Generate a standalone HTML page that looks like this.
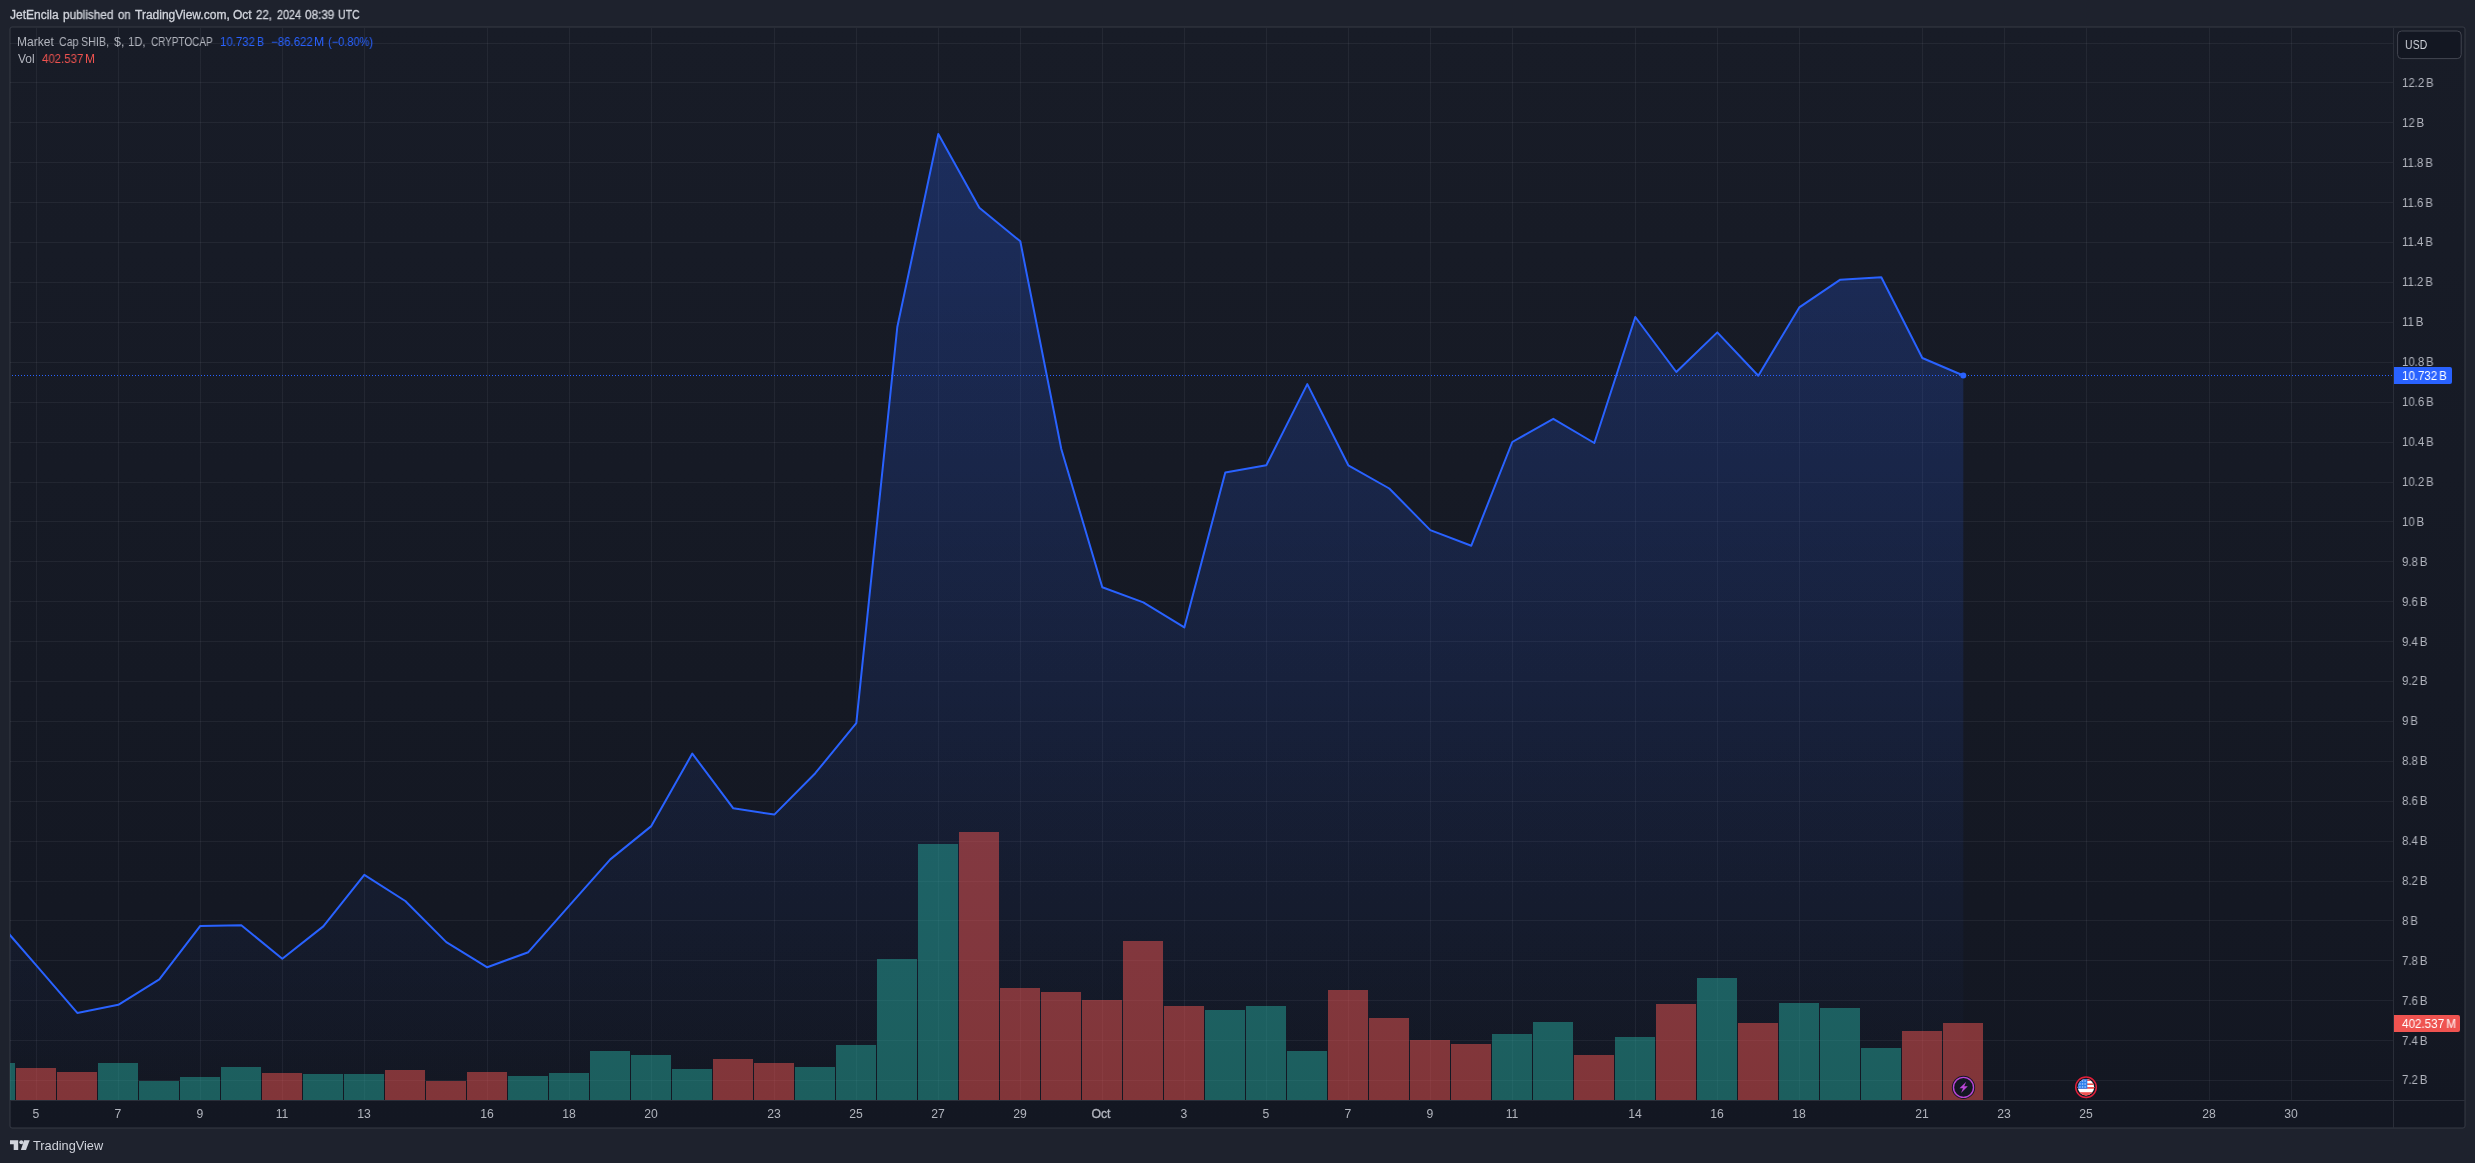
<!DOCTYPE html>
<html lang="en"><head><meta charset="utf-8"><title>Market Cap SHIB chart</title>
<style>
html,body{margin:0;padding:0;background:#1e222d;}
body{width:2475px;height:1163px;overflow:hidden;position:relative;font-family:"Liberation Sans",sans-serif;}
.t{position:absolute;white-space:nowrap;line-height:16px;height:16px;will-change:transform;transform-origin:0 50%;}
.t i{font-style:normal;margin-left:2px;}
</style></head><body>
<svg width="2475" height="1163" viewBox="0 0 2475 1163" style="position:absolute;left:0;top:0">
<defs>
<linearGradient id="bg" x1="0" y1="0" x2="0" y2="1"><stop offset="0" stop-color="#181c27"/><stop offset="1" stop-color="#131722"/></linearGradient>
<linearGradient id="ar" gradientUnits="userSpaceOnUse" x1="0" y1="28" x2="0" y2="1100"><stop offset="0" stop-color="#2962ff" stop-opacity="0.28"/><stop offset="1" stop-color="#2962ff" stop-opacity="0"/></linearGradient>
<clipPath id="pane"><rect x="10" y="28" width="2383" height="1072"/></clipPath>
<clipPath id="flag"><circle cx="2086" cy="1087.2" r="8.2"/></clipPath>
</defs>
<rect x="10" y="27" width="2455" height="1101" rx="2" fill="url(#bg)"/>
<rect x="10" y="27" width="2455" height="1101" rx="2" fill="none" stroke="#363a45" stroke-width="1"/>
<g fill="#f0f3fa" fill-opacity="0.06" clip-path="url(#pane)">
<rect x="36" y="28" width="1" height="1072"/>
<rect x="118" y="28" width="1" height="1072"/>
<rect x="200" y="28" width="1" height="1072"/>
<rect x="282" y="28" width="1" height="1072"/>
<rect x="364" y="28" width="1" height="1072"/>
<rect x="487" y="28" width="1" height="1072"/>
<rect x="569" y="28" width="1" height="1072"/>
<rect x="651" y="28" width="1" height="1072"/>
<rect x="774" y="28" width="1" height="1072"/>
<rect x="856" y="28" width="1" height="1072"/>
<rect x="938" y="28" width="1" height="1072"/>
<rect x="1020" y="28" width="1" height="1072"/>
<rect x="1102" y="28" width="1" height="1072"/>
<rect x="1184" y="28" width="1" height="1072"/>
<rect x="1266" y="28" width="1" height="1072"/>
<rect x="1348" y="28" width="1" height="1072"/>
<rect x="1430" y="28" width="1" height="1072"/>
<rect x="1512" y="28" width="1" height="1072"/>
<rect x="1635" y="28" width="1" height="1072"/>
<rect x="1717" y="28" width="1" height="1072"/>
<rect x="1799" y="28" width="1" height="1072"/>
<rect x="1922" y="28" width="1" height="1072"/>
<rect x="2004" y="28" width="1" height="1072"/>
<rect x="2086" y="28" width="1" height="1072"/>
<rect x="2209" y="28" width="1" height="1072"/>
<rect x="2291" y="28" width="1" height="1072"/>
<rect x="10" y="1080" width="2383" height="1"/>
<rect x="10" y="1040" width="2383" height="1"/>
<rect x="10" y="1000" width="2383" height="1"/>
<rect x="10" y="960" width="2383" height="1"/>
<rect x="10" y="920" width="2383" height="1"/>
<rect x="10" y="881" width="2383" height="1"/>
<rect x="10" y="841" width="2383" height="1"/>
<rect x="10" y="801" width="2383" height="1"/>
<rect x="10" y="761" width="2383" height="1"/>
<rect x="10" y="721" width="2383" height="1"/>
<rect x="10" y="681" width="2383" height="1"/>
<rect x="10" y="641" width="2383" height="1"/>
<rect x="10" y="601" width="2383" height="1"/>
<rect x="10" y="561" width="2383" height="1"/>
<rect x="10" y="521" width="2383" height="1"/>
<rect x="10" y="482" width="2383" height="1"/>
<rect x="10" y="442" width="2383" height="1"/>
<rect x="10" y="402" width="2383" height="1"/>
<rect x="10" y="362" width="2383" height="1"/>
<rect x="10" y="322" width="2383" height="1"/>
<rect x="10" y="282" width="2383" height="1"/>
<rect x="10" y="242" width="2383" height="1"/>
<rect x="10" y="202" width="2383" height="1"/>
<rect x="10" y="162" width="2383" height="1"/>
<rect x="10" y="122" width="2383" height="1"/>
<rect x="10" y="82" width="2383" height="1"/>
<rect x="10" y="43" width="2383" height="1"/>
</g>
<g clip-path="url(#pane)">
<polygon points="-5.0,1100 -4.7,918.2 36.3,965.4 77.3,1012.9 118.3,1004.8 159.3,979.3 200.3,925.9 241.3,925.2 282.3,958.8 323.3,926.4 364.3,874.8 405.3,901.0 446.3,942.1 487.3,967.3 528.3,952.2 569.3,905.6 610.3,859.4 651.3,826.1 692.3,753.6 733.3,808.3 774.3,814.6 815.3,773.2 856.3,723.2 897.3,327.0 938.3,134.0 979.3,207.8 1020.3,241.3 1061.3,449.0 1102.3,587.3 1143.3,602.4 1184.3,627.4 1225.3,472.5 1266.3,465.3 1307.3,384.1 1348.3,465.3 1389.3,488.5 1430.3,530.1 1471.3,545.7 1512.3,442.0 1553.3,418.8 1594.3,443.0 1635.3,317.0 1676.3,372.0 1717.3,332.4 1758.3,375.7 1799.3,307.4 1840.3,279.7 1881.3,277.2 1922.3,358.0 1963.3,375.5 1963.3,1100" fill="url(#ar)"/>
<line x1="10" y1="375.5" x2="2393" y2="375.5" stroke="#2962ff" stroke-width="1" stroke-dasharray="1 2" stroke-dashoffset="1"/>
<polyline points="-4.7,918.2 36.3,965.4 77.3,1012.9 118.3,1004.8 159.3,979.3 200.3,925.9 241.3,925.2 282.3,958.8 323.3,926.4 364.3,874.8 405.3,901.0 446.3,942.1 487.3,967.3 528.3,952.2 569.3,905.6 610.3,859.4 651.3,826.1 692.3,753.6 733.3,808.3 774.3,814.6 815.3,773.2 856.3,723.2 897.3,327.0 938.3,134.0 979.3,207.8 1020.3,241.3 1061.3,449.0 1102.3,587.3 1143.3,602.4 1184.3,627.4 1225.3,472.5 1266.3,465.3 1307.3,384.1 1348.3,465.3 1389.3,488.5 1430.3,530.1 1471.3,545.7 1512.3,442.0 1553.3,418.8 1594.3,443.0 1635.3,317.0 1676.3,372.0 1717.3,332.4 1758.3,375.7 1799.3,307.4 1840.3,279.7 1881.3,277.2 1922.3,358.0 1963.3,375.5" fill="none" stroke="#2962ff" stroke-width="2" stroke-linejoin="round" stroke-linecap="round"/>
<circle cx="1963.3" cy="375.5" r="3" fill="#2962ff"/>
<rect x="-25" y="1063" width="40" height="37" fill="#26a69a" fill-opacity="0.5"/>
<rect x="16" y="1068" width="40" height="32" fill="#ef5350" fill-opacity="0.5"/>
<rect x="57" y="1072" width="40" height="28" fill="#ef5350" fill-opacity="0.5"/>
<rect x="98" y="1063" width="40" height="37" fill="#26a69a" fill-opacity="0.5"/>
<rect x="139" y="1081" width="40" height="19" fill="#26a69a" fill-opacity="0.5"/>
<rect x="180" y="1077" width="40" height="23" fill="#26a69a" fill-opacity="0.5"/>
<rect x="221" y="1067" width="40" height="33" fill="#26a69a" fill-opacity="0.5"/>
<rect x="262" y="1073" width="40" height="27" fill="#ef5350" fill-opacity="0.5"/>
<rect x="303" y="1074" width="40" height="26" fill="#26a69a" fill-opacity="0.5"/>
<rect x="344" y="1074" width="40" height="26" fill="#26a69a" fill-opacity="0.5"/>
<rect x="385" y="1070" width="40" height="30" fill="#ef5350" fill-opacity="0.5"/>
<rect x="426" y="1081" width="40" height="19" fill="#ef5350" fill-opacity="0.5"/>
<rect x="467" y="1072" width="40" height="28" fill="#ef5350" fill-opacity="0.5"/>
<rect x="508" y="1076" width="40" height="24" fill="#26a69a" fill-opacity="0.5"/>
<rect x="549" y="1073" width="40" height="27" fill="#26a69a" fill-opacity="0.5"/>
<rect x="590" y="1051" width="40" height="49" fill="#26a69a" fill-opacity="0.5"/>
<rect x="631" y="1055" width="40" height="45" fill="#26a69a" fill-opacity="0.5"/>
<rect x="672" y="1069" width="40" height="31" fill="#26a69a" fill-opacity="0.5"/>
<rect x="713" y="1059" width="40" height="41" fill="#ef5350" fill-opacity="0.5"/>
<rect x="754" y="1063" width="40" height="37" fill="#ef5350" fill-opacity="0.5"/>
<rect x="795" y="1067" width="40" height="33" fill="#26a69a" fill-opacity="0.5"/>
<rect x="836" y="1045" width="40" height="55" fill="#26a69a" fill-opacity="0.5"/>
<rect x="877" y="959" width="40" height="141" fill="#26a69a" fill-opacity="0.5"/>
<rect x="918" y="844" width="40" height="256" fill="#26a69a" fill-opacity="0.5"/>
<rect x="959" y="832" width="40" height="268" fill="#ef5350" fill-opacity="0.5"/>
<rect x="1000" y="988" width="40" height="112" fill="#ef5350" fill-opacity="0.5"/>
<rect x="1041" y="992" width="40" height="108" fill="#ef5350" fill-opacity="0.5"/>
<rect x="1082" y="1000" width="40" height="100" fill="#ef5350" fill-opacity="0.5"/>
<rect x="1123" y="941" width="40" height="159" fill="#ef5350" fill-opacity="0.5"/>
<rect x="1164" y="1006" width="40" height="94" fill="#ef5350" fill-opacity="0.5"/>
<rect x="1205" y="1010" width="40" height="90" fill="#26a69a" fill-opacity="0.5"/>
<rect x="1246" y="1006" width="40" height="94" fill="#26a69a" fill-opacity="0.5"/>
<rect x="1287" y="1051" width="40" height="49" fill="#26a69a" fill-opacity="0.5"/>
<rect x="1328" y="990" width="40" height="110" fill="#ef5350" fill-opacity="0.5"/>
<rect x="1369" y="1018" width="40" height="82" fill="#ef5350" fill-opacity="0.5"/>
<rect x="1410" y="1040" width="40" height="60" fill="#ef5350" fill-opacity="0.5"/>
<rect x="1451" y="1044" width="40" height="56" fill="#ef5350" fill-opacity="0.5"/>
<rect x="1492" y="1034" width="40" height="66" fill="#26a69a" fill-opacity="0.5"/>
<rect x="1533" y="1022" width="40" height="78" fill="#26a69a" fill-opacity="0.5"/>
<rect x="1574" y="1055" width="40" height="45" fill="#ef5350" fill-opacity="0.5"/>
<rect x="1615" y="1037" width="40" height="63" fill="#26a69a" fill-opacity="0.5"/>
<rect x="1656" y="1004" width="40" height="96" fill="#ef5350" fill-opacity="0.5"/>
<rect x="1697" y="978" width="40" height="122" fill="#26a69a" fill-opacity="0.5"/>
<rect x="1738" y="1023" width="40" height="77" fill="#ef5350" fill-opacity="0.5"/>
<rect x="1779" y="1003" width="40" height="97" fill="#26a69a" fill-opacity="0.5"/>
<rect x="1820" y="1008" width="40" height="92" fill="#26a69a" fill-opacity="0.5"/>
<rect x="1861" y="1048" width="40" height="52" fill="#26a69a" fill-opacity="0.5"/>
<rect x="1902" y="1031" width="40" height="69" fill="#ef5350" fill-opacity="0.5"/>
<rect x="1943" y="1023" width="40" height="77" fill="#ef5350" fill-opacity="0.5"/>
</g>
<rect x="2393" y="28" width="1" height="1100" fill="#2a2e39"/>
<rect x="10" y="1100" width="2455" height="1" fill="#2a2e39"/>
<rect x="2397.6" y="31" width="63.6" height="27.6" rx="4" fill="#131722" stroke="#434651" stroke-width="1"/>
<path d="M2394 367H2450a2 2 0 0 1 2 2V382a2 2 0 0 1-2 2H2394Z" fill="#2962ff"/>
<path d="M2394 1015H2458a2 2 0 0 1 2 2V1030a2 2 0 0 1-2 2H2394Z" fill="#ef5350"/>
<g>
<circle cx="1963.5" cy="1087.4" r="11.6" fill="#131722"/>
<circle cx="1963.5" cy="1087.4" r="10.0" fill="#131722" stroke="#ba45d6" stroke-width="1.4"/>
<path d="M1966.2 1081.8 L1959.5 1088.3 L1963 1088.3 L1961 1093 L1967.8 1086.3 L1964.2 1086.3 Z" fill="#ba45d6"/>
</g>
<g>
<circle cx="2086" cy="1087.2" r="11.3" fill="#131722"/>
<circle cx="2086" cy="1087.2" r="10.3" fill="none" stroke="#e0203a" stroke-width="1.5"/>
<g clip-path="url(#flag)">
<rect x="2077" y="1078" width="18" height="18" fill="#ffffff"/>
<rect x="2077" y="1078.6" width="18" height="2.4" fill="#ef5350"/>
<rect x="2077" y="1083.4" width="18" height="1.6" fill="#ef5350"/>
<rect x="2077" y="1087.0" width="18" height="1.8" fill="#ef5350"/>
<rect x="2077" y="1092.2" width="18" height="3.8" fill="#ef5350"/>
<rect x="2077" y="1078" width="10.3" height="10.8" fill="#2f80ed"/>
<rect x="2079.3" y="1080.5" width="1.3" height="1" fill="#dbe9ff"/>
<rect x="2081.9" y="1080.5" width="1.3" height="1" fill="#dbe9ff"/>
<rect x="2084.5" y="1080.5" width="1.3" height="1" fill="#dbe9ff"/>
<rect x="2079.3" y="1083.5" width="1.3" height="1" fill="#dbe9ff"/>
<rect x="2081.9" y="1083.5" width="1.3" height="1" fill="#dbe9ff"/>
<rect x="2084.5" y="1083.5" width="1.3" height="1" fill="#dbe9ff"/>
<rect x="2079.3" y="1086.5" width="1.3" height="1" fill="#dbe9ff"/>
<rect x="2081.9" y="1086.5" width="1.3" height="1" fill="#dbe9ff"/>
<rect x="2084.5" y="1086.5" width="1.3" height="1" fill="#dbe9ff"/>
</g></g>
<g fill="#d1d4dc">
<path d="M10 1140.2H18.2V1150H13.7V1144.2H10Z"/>
<circle cx="21.3" cy="1142.2" r="2"/>
<path d="M24 1140.2H29.7L26 1150H20.9Z"/>
</g>
</svg>
<div class="t" id="h0" style="left:10.10px;top:7px;font-size:12px;color:#d1d4dc;-webkit-text-stroke:0.3px #d1d4dc;">JetEncila</div>
<div class="t" id="h1" style="left:63.00px;top:7px;font-size:12px;color:#d1d4dc;transform:scaleX(0.9824);-webkit-text-stroke:0.3px #d1d4dc;">published</div>
<div class="t" id="h2" style="left:118.00px;top:7px;font-size:12px;color:#d1d4dc;transform:scaleX(0.9394);-webkit-text-stroke:0.3px #d1d4dc;">on</div>
<div class="t" id="h3" style="left:134.60px;top:7px;font-size:12px;color:#d1d4dc;-webkit-text-stroke:0.3px #d1d4dc;">TradingView.com,</div>
<div class="t" id="h4" style="left:232.90px;top:7px;font-size:12px;color:#d1d4dc;-webkit-text-stroke:0.3px #d1d4dc;">Oct</div>
<div class="t" id="h5" style="left:256.30px;top:7px;font-size:12px;color:#d1d4dc;transform:scaleX(0.9558);-webkit-text-stroke:0.3px #d1d4dc;">22,</div>
<div class="t" id="h6" style="left:276.80px;top:7px;font-size:12px;color:#d1d4dc;transform:scaleX(0.8995);-webkit-text-stroke:0.3px #d1d4dc;">2024</div>
<div class="t" id="h7" style="left:304.60px;top:7px;font-size:12px;color:#d1d4dc;transform:scaleX(0.9767);-webkit-text-stroke:0.3px #d1d4dc;">08:39</div>
<div class="t" id="h8" style="left:337.79px;top:7px;font-size:12px;color:#d1d4dc;transform:scaleX(0.8812);-webkit-text-stroke:0.3px #d1d4dc;">UTC</div>
<div class="t" id="l0" style="left:16.82px;top:34px;font-size:12px;color:#b2b5be;transform:scaleX(1.0022);">Market</div>
<div class="t" id="l1" style="left:58.60px;top:34px;font-size:12px;color:#b2b5be;transform:scaleX(0.8873);">Cap</div>
<div class="t" id="l2" style="left:81.42px;top:34px;font-size:12px;color:#b2b5be;transform:scaleX(0.8934);">SHIB,</div>
<div class="t" id="l3" style="left:113.80px;top:34px;font-size:12px;color:#b2b5be;transform:scaleX(1.0333);">$,</div>
<div class="t" id="l4" style="left:128.47px;top:34px;font-size:12px;color:#b2b5be;transform:scaleX(0.9396);">1D,</div>
<div class="t" id="l5" style="left:150.80px;top:34px;font-size:12px;color:#b2b5be;transform:scaleX(0.8301);">CRYPTOCAP</div>
<div class="t" id="v0" style="left:219.56px;top:34px;font-size:12px;color:#2962ff;transform:scaleX(0.9523);">10.732</div>
<div class="t" id="v1" style="left:256.54px;top:34px;font-size:12px;color:#2962ff;transform:scaleX(0.8863);">B</div>
<div class="t" id="v2" style="left:270.72px;top:34px;font-size:12px;color:#2962ff;transform:scaleX(0.9574);">&minus;86.622</div>
<div class="t" id="v3" style="left:314.22px;top:34px;font-size:12px;color:#2962ff;transform:scaleX(1.0222);">M</div>
<div class="t" id="v4" style="left:327.88px;top:34px;font-size:12px;color:#2962ff;transform:scaleX(0.9188);">(&minus;0.80%)</div>
<div class="t" id="vo" style="left:18.30px;top:51px;font-size:12px;color:#b2b5be;">Vol</div>
<div class="t" id="vv" style="left:41.80px;top:51px;font-size:12px;color:#ef5350;transform:scaleX(0.9535);">402.537</div>
<div class="t" id="vm" style="left:84.81px;top:51px;font-size:12px;color:#ef5350;transform:scaleX(0.9777);">M</div>
<div class="t" id="usd" style="left:2405.07px;top:37px;font-size:12px;color:#d1d4dc;transform:scaleX(0.8747);">USD</div>
<div class="t" id="p0" style="left:2402.10px;top:1072px;font-size:12px;color:#b2b5be;transform:scaleX(0.9509);">7.2<i>B</i></div>
<div class="t" id="p1" style="left:2402.10px;top:1033px;font-size:12px;color:#b2b5be;transform:scaleX(0.9509);">7.4<i>B</i></div>
<div class="t" id="p2" style="left:2402.10px;top:993px;font-size:12px;color:#b2b5be;transform:scaleX(0.9509);">7.6<i>B</i></div>
<div class="t" id="p3" style="left:2402.10px;top:953px;font-size:12px;color:#b2b5be;transform:scaleX(0.9509);">7.8<i>B</i></div>
<div class="t" id="p4" style="left:2402.10px;top:913px;font-size:12px;color:#b2b5be;transform:scaleX(0.9509);">8<i>B</i></div>
<div class="t" id="p5" style="left:2402.10px;top:873px;font-size:12px;color:#b2b5be;transform:scaleX(0.9509);">8.2<i>B</i></div>
<div class="t" id="p6" style="left:2402.10px;top:833px;font-size:12px;color:#b2b5be;transform:scaleX(0.9509);">8.4<i>B</i></div>
<div class="t" id="p7" style="left:2402.10px;top:793px;font-size:12px;color:#b2b5be;transform:scaleX(0.9509);">8.6<i>B</i></div>
<div class="t" id="p8" style="left:2402.10px;top:753px;font-size:12px;color:#b2b5be;transform:scaleX(0.9509);">8.8<i>B</i></div>
<div class="t" id="p9" style="left:2402.10px;top:713px;font-size:12px;color:#b2b5be;transform:scaleX(0.9509);">9<i>B</i></div>
<div class="t" id="p10" style="left:2402.10px;top:673px;font-size:12px;color:#b2b5be;transform:scaleX(0.9509);">9.2<i>B</i></div>
<div class="t" id="p11" style="left:2402.10px;top:634px;font-size:12px;color:#b2b5be;transform:scaleX(0.9509);">9.4<i>B</i></div>
<div class="t" id="p12" style="left:2402.10px;top:594px;font-size:12px;color:#b2b5be;transform:scaleX(0.9509);">9.6<i>B</i></div>
<div class="t" id="p13" style="left:2402.10px;top:554px;font-size:12px;color:#b2b5be;transform:scaleX(0.9509);">9.8<i>B</i></div>
<div class="t" id="p14" style="left:2402.10px;top:514px;font-size:12px;color:#b2b5be;transform:scaleX(0.9509);">10<i>B</i></div>
<div class="t" id="p15" style="left:2402.10px;top:474px;font-size:12px;color:#b2b5be;transform:scaleX(0.9509);">10.2<i>B</i></div>
<div class="t" id="p16" style="left:2402.10px;top:434px;font-size:12px;color:#b2b5be;transform:scaleX(0.9509);">10.4<i>B</i></div>
<div class="t" id="p17" style="left:2402.10px;top:394px;font-size:12px;color:#b2b5be;transform:scaleX(0.9509);">10.6<i>B</i></div>
<div class="t" id="p18" style="left:2402.10px;top:354px;font-size:12px;color:#b2b5be;transform:scaleX(0.9509);">10.8<i>B</i></div>
<div class="t" id="p19" style="left:2402.10px;top:314px;font-size:12px;color:#b2b5be;transform:scaleX(0.9509);">11<i>B</i></div>
<div class="t" id="p20" style="left:2402.10px;top:274px;font-size:12px;color:#b2b5be;transform:scaleX(0.9509);">11.2<i>B</i></div>
<div class="t" id="p21" style="left:2402.10px;top:234px;font-size:12px;color:#b2b5be;transform:scaleX(0.9509);">11.4<i>B</i></div>
<div class="t" id="p22" style="left:2402.10px;top:195px;font-size:12px;color:#b2b5be;transform:scaleX(0.9509);">11.6<i>B</i></div>
<div class="t" id="p23" style="left:2402.10px;top:155px;font-size:12px;color:#b2b5be;transform:scaleX(0.9509);">11.8<i>B</i></div>
<div class="t" id="p24" style="left:2402.10px;top:115px;font-size:12px;color:#b2b5be;transform:scaleX(0.9509);">12<i>B</i></div>
<div class="t" id="p25" style="left:2402.10px;top:75px;font-size:12px;color:#b2b5be;transform:scaleX(0.9509);">12.2<i>B</i></div>
<div class="t" id="cur" style="left:2402.32px;top:368px;font-size:12px;color:#ffffff;transform:scaleX(0.9585);">10.732<i>B</i></div>
<div class="t" id="vlb" style="left:2402.00px;top:1016px;font-size:12px;color:#ffffff;transform:scaleX(0.9725);">402.537<i>M</i></div>
<div class="t" id="t0" style="left:36.04px;top:1106px;font-size:12px;color:#b2b5be;transform:translateX(-50%) scaleX(1.0159);transform-origin:50% 50%;">5</div>
<div class="t" id="t2" style="left:118.04px;top:1106px;font-size:12px;color:#b2b5be;transform:translateX(-50%) scaleX(1.0159);transform-origin:50% 50%;">7</div>
<div class="t" id="t4" style="left:200.04px;top:1106px;font-size:12px;color:#b2b5be;transform:translateX(-50%) scaleX(1.0159);transform-origin:50% 50%;">9</div>
<div class="t" id="t6" style="left:282.04px;top:1106px;font-size:12px;color:#b2b5be;transform:translateX(-50%) scaleX(1.0159);transform-origin:50% 50%;">11</div>
<div class="t" id="t8" style="left:364.04px;top:1106px;font-size:12px;color:#b2b5be;transform:translateX(-50%) scaleX(1.0159);transform-origin:50% 50%;">13</div>
<div class="t" id="t11" style="left:487.04px;top:1106px;font-size:12px;color:#b2b5be;transform:translateX(-50%) scaleX(1.0159);transform-origin:50% 50%;">16</div>
<div class="t" id="t13" style="left:569.04px;top:1106px;font-size:12px;color:#b2b5be;transform:translateX(-50%) scaleX(1.0159);transform-origin:50% 50%;">18</div>
<div class="t" id="t15" style="left:651.04px;top:1106px;font-size:12px;color:#b2b5be;transform:translateX(-50%) scaleX(1.0159);transform-origin:50% 50%;">20</div>
<div class="t" id="t18" style="left:774.04px;top:1106px;font-size:12px;color:#b2b5be;transform:translateX(-50%) scaleX(1.0159);transform-origin:50% 50%;">23</div>
<div class="t" id="t20" style="left:856.04px;top:1106px;font-size:12px;color:#b2b5be;transform:translateX(-50%) scaleX(1.0159);transform-origin:50% 50%;">25</div>
<div class="t" id="t22" style="left:938.04px;top:1106px;font-size:12px;color:#b2b5be;transform:translateX(-50%) scaleX(1.0159);transform-origin:50% 50%;">27</div>
<div class="t" id="t24" style="left:1020.04px;top:1106px;font-size:12px;color:#b2b5be;transform:translateX(-50%) scaleX(1.0159);transform-origin:50% 50%;">29</div>
<div class="t" id="t26" style="left:1100.90px;top:1106px;font-size:12px;color:#b2b5be;transform:translateX(-50%) scaleX(1.0211);transform-origin:50% 50%;-webkit-text-stroke:0.35px #b2b5be;">Oct</div>
<div class="t" id="t28" style="left:1184.04px;top:1106px;font-size:12px;color:#b2b5be;transform:translateX(-50%) scaleX(1.0159);transform-origin:50% 50%;">3</div>
<div class="t" id="t30" style="left:1266.04px;top:1106px;font-size:12px;color:#b2b5be;transform:translateX(-50%) scaleX(1.0159);transform-origin:50% 50%;">5</div>
<div class="t" id="t32" style="left:1348.04px;top:1106px;font-size:12px;color:#b2b5be;transform:translateX(-50%) scaleX(1.0159);transform-origin:50% 50%;">7</div>
<div class="t" id="t34" style="left:1430.04px;top:1106px;font-size:12px;color:#b2b5be;transform:translateX(-50%) scaleX(1.0159);transform-origin:50% 50%;">9</div>
<div class="t" id="t36" style="left:1512.04px;top:1106px;font-size:12px;color:#b2b5be;transform:translateX(-50%) scaleX(1.0159);transform-origin:50% 50%;">11</div>
<div class="t" id="t39" style="left:1635.04px;top:1106px;font-size:12px;color:#b2b5be;transform:translateX(-50%) scaleX(1.0159);transform-origin:50% 50%;">14</div>
<div class="t" id="t41" style="left:1717.04px;top:1106px;font-size:12px;color:#b2b5be;transform:translateX(-50%) scaleX(1.0159);transform-origin:50% 50%;">16</div>
<div class="t" id="t43" style="left:1799.04px;top:1106px;font-size:12px;color:#b2b5be;transform:translateX(-50%) scaleX(1.0159);transform-origin:50% 50%;">18</div>
<div class="t" id="t46" style="left:1922.04px;top:1106px;font-size:12px;color:#b2b5be;transform:translateX(-50%) scaleX(1.0159);transform-origin:50% 50%;">21</div>
<div class="t" id="t48" style="left:2004.04px;top:1106px;font-size:12px;color:#b2b5be;transform:translateX(-50%) scaleX(1.0159);transform-origin:50% 50%;">23</div>
<div class="t" id="t50" style="left:2086.04px;top:1106px;font-size:12px;color:#b2b5be;transform:translateX(-50%) scaleX(1.0159);transform-origin:50% 50%;">25</div>
<div class="t" id="t53" style="left:2209.04px;top:1106px;font-size:12px;color:#b2b5be;transform:translateX(-50%) scaleX(1.0159);transform-origin:50% 50%;">28</div>
<div class="t" id="t55" style="left:2291.04px;top:1106px;font-size:12px;color:#b2b5be;transform:translateX(-50%) scaleX(1.0159);transform-origin:50% 50%;">30</div>
<div class="t" id="tv" style="left:33.20px;top:1138px;font-size:12.6px;color:#d1d4dc;transform:scaleX(1.0120);">TradingView</div>
</body></html>
